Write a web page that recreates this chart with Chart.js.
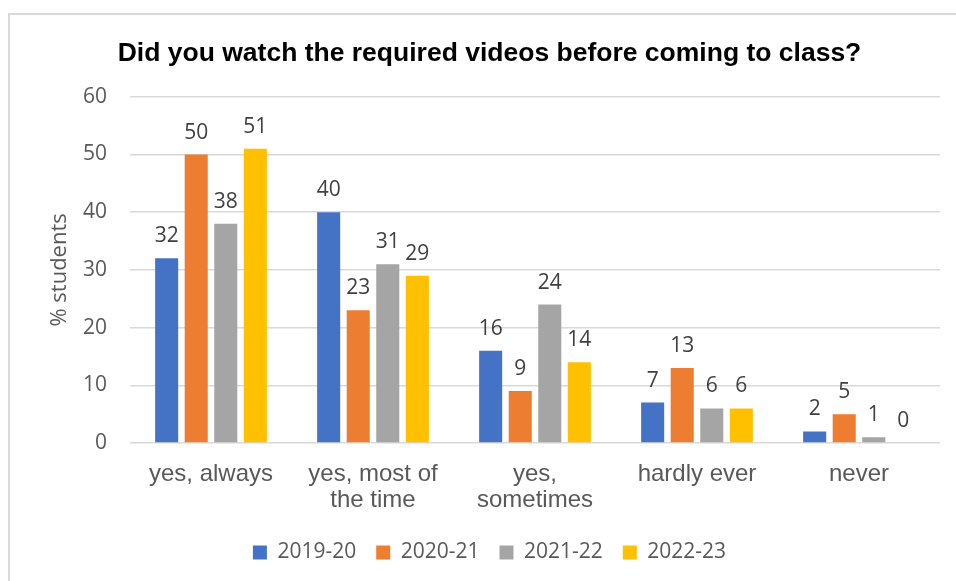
<!DOCTYPE html>
<html>
<head>
<meta charset="utf-8">
<script src="https://cdn.jsdelivr.net/npm/chart.js@4"></script>
<style>
  html, body { margin:0; padding:0; background:#fff; overflow:hidden; }
  body { width:956px; height:581px; position:relative; }
  .frame { position:absolute; left:8px; top:13px; width:1000px; height:620px; border:2px solid #d9d9d9; }
  #chart { position:absolute; left:0; top:2px; }
</style>
</head>
<body>
<div class="frame"><canvas id="chart" width="962" height="566"></canvas></div>
<script>
// survey answers, % of students per academic year
const answers = [['yes, always'], ['yes, most of', 'the time'], ['yes,', 'sometimes'], ['hardly ever'], ['never']];
const years = ['2019-20', '2020-21', '2021-22', '2022-23'];
const y2019 = [32, 40, 16, 7, 2];
const y2020 = [50, 23, 9, 13, 5];
const y2021 = [38, 31, 24, 6, 1];
const y2022 = [51, 29, 14, 6, 0];
const yTicksMax = 60;
const yTicksStep = 10;

const colors = ['#4472C4', '#ED7D31', '#A5A5A5', '#FFC000'];
const series = [y2019, y2020, y2021, y2022];

// value labels above each bar
const barValues = {
    id: 'barValues',
    afterDatasetsDraw(chart) {
        const ctx = chart.ctx;
        ctx.save();
        ctx.font = '21px "Open Sans"';
        ctx.fillStyle = '#404040';
        ctx.textAlign = 'center';
        ctx.textBaseline = 'alphabetic';
        chart.data.datasets.forEach((ds, i) => {
            chart.getDatasetMeta(i).data.forEach((bar, j) => {
                ctx.fillText(ds.data[j], bar.x, bar.y - 16);
            });
        });
        ctx.restore();
    }
};

new Chart(document.getElementById('chart'), {
    type: 'bar',
    data: {
        labels: answers,
        datasets: series.map((d, i) => ({
            label: years[i],
            data: d,
            backgroundColor: colors[i],
            borderWidth: 0,
            categoryPercentage: 0.73,
            barPercentage: 0.78
        }))
    },
    options: {
        responsive: false,
        animation: false,
        layout: { padding: { left: 29, right: 32, top: 0, bottom: 10 } },
        plugins: {
            title: {
                display: true,
                text: 'Did you watch the required videos before coming to class?',
                color: '#000',
                font: { family: '"Liberation Sans", Arial', size: 26.5, weight: 'bold', lineHeight: 1.2 },
                padding: { top: 21, bottom: 27 }
            },
            legend: {
                position: 'bottom',
                labels: {
                    boxWidth: 14, boxHeight: 14, padding: 20,
                    color: '#595959',
                    font: { family: '"Open Sans"', size: 21 }
                }
            },
            tooltip: { enabled: false }
        },
        scales: {
            x: {
                grid: { display: false },
                border: { display: false },
                ticks: {
                    color: '#595959', padding: 10, maxRotation: 0, autoSkip: false,
                    font: { family: '"Liberation Sans", Arial', size: 24, lineHeight: 1.08 }
                },
                afterFit(scale) { scale.height = 79; }
            },
            y: {
                min: 0, max: yTicksMax,
                grid: { color: '#d9d9d9', lineWidth: 1.5, drawTicks: false },
                border: { display: false },
                ticks: {
                    stepSize: yTicksStep, color: '#595959', padding: 23,
                    font: { family: '"Open Sans"', size: 21 }
                },
                title: {
                    display: true, text: '% students', color: '#595959',
                    font: { family: '"Open Sans"', size: 22, lineHeight: 1.2 },
                    padding: { top: 8, bottom: 0 }
                },
                afterFit(scale) { scale.width = 91; }
            }
        }
    },
    plugins: [barValues]
});
</script>
</body>
</html>
